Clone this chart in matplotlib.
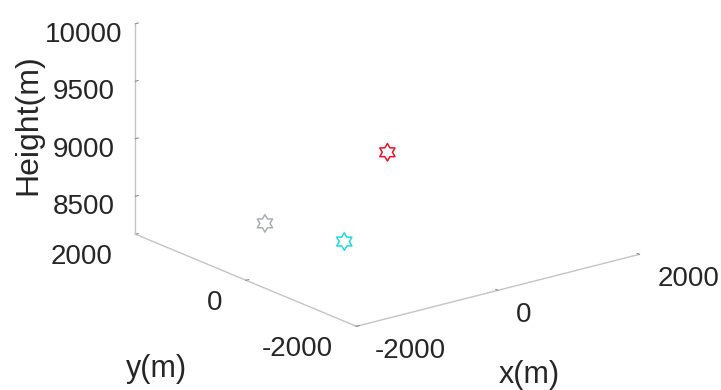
import numpy as np
import matplotlib.pyplot as plt
from matplotlib.path import Path

plt.rcParams['font.family'] = ['Liberation Sans', 'DejaVu Sans']
plt.rcParams['axes.unicode_minus'] = False

# target positions (m)
x_pos = [0, -1000, -950]
y_pos = [0, -500, 1000]
heights = [8970, 8450, 8300]
colors = ['#e8142c', '#22d8dc', '#a8b0b0']

x_ticks = [-2000, 0, 2000]
y_ticks = [-2000, 0, 2000]
z_ticks = [8500, 9000, 9500, 10000]

# six-pointed star (hexagram)
ang = np.pi / 2 + np.arange(13) * np.pi / 6
rad = np.where(np.arange(13) % 2 == 0, 1.0, 1 / np.sqrt(3))
hexagram = Path(np.column_stack([rad * np.cos(ang), rad * np.sin(ang)]), closed=True)

fig = plt.figure(figsize=(7.21, 3.9), dpi=100)
ax = fig.add_axes([0.03, 0.13, 1.0, 1.0], projection='3d', proj_type='ortho')

for x, y, z, c in zip(x_pos, y_pos, heights, colors):
    ax.scatter(x, y, z, marker=hexagram, s=160, facecolors='none',
               edgecolors=c, linewidths=1.1, depthshade=False)

ax.set_xlim(-2000, 2000)
ax.set_ylim(-2000, 2000)
ax.set_zlim(8170, 10000)
ax.set_xticks(x_ticks)
ax.set_yticks(y_ticks)
ax.set_zticks(z_ticks)
ax.set_box_aspect((1, 1, 0.62), zoom=1.38)
ax.view_init(elev=19, azim=-128)

for axis in (ax.xaxis, ax.yaxis, ax.zaxis):
    axis.set_pane_color((1, 1, 1, 0))
    axis.line.set_color('#c4c4c4')
    axis.line.set_linewidth(1.0)
    axis._axinfo['tick']['inward_factor'] = 0.0
    axis._axinfo['tick']['outward_factor'] = 0.12
ax.grid(False)
ax.tick_params(colors='#8a8a8a', labelcolor='#262626', labelsize=20)
ax.tick_params(axis='x', pad=4)
ax.tick_params(axis='y', pad=4)
ax.tick_params(axis='z', pad=7)
plt.setp(ax.get_xticklabels(), ha='left', va='center')
plt.setp(ax.get_yticklabels(), ha='right', va='center')

ax.xaxis._axinfo['label'] = dict(ax.xaxis._axinfo['label'], ha='right')
ax.set_xlabel('x(m)', fontsize=22, color='#262626', labelpad=20)
ax.set_ylabel('y(m)', fontsize=22, color='#262626', labelpad=25)
ax.set_zlabel('Height(m)', fontsize=23, color='#262626', labelpad=10)

plt.savefig('out.png', dpi=100)
